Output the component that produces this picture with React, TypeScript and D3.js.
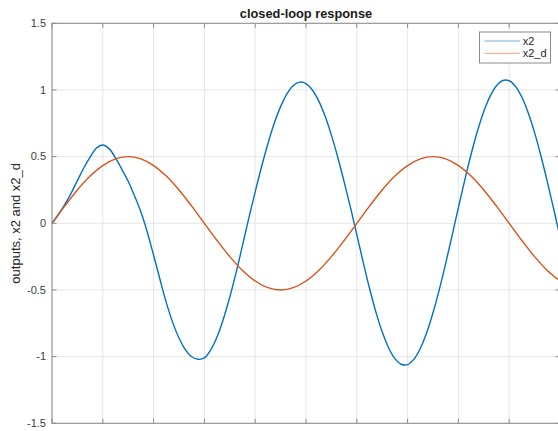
import React from "react";
import * as d3 from "d3";

const x2Time = [0, 0.125, 0.25, 0.375, 0.5, 0.625, 0.75, 0.875, 1, 1.125, 1.25, 1.375, 1.5, 1.625, 1.75, 1.875, 2, 2.125, 2.25, 2.375, 2.5, 2.625, 2.75, 2.875, 3, 3.125, 3.25, 3.375, 3.5, 3.625, 3.75, 3.875, 4, 4.125, 4.25, 4.375, 4.5, 4.625, 4.75, 4.875, 5, 5.125, 5.25, 5.375, 5.5, 5.625, 5.75, 5.875, 6, 6.125, 6.25, 6.375, 6.5, 6.625, 6.75, 6.875, 7, 7.125, 7.25, 7.375, 7.5, 7.625, 7.75, 7.875, 8, 8.125, 8.25, 8.375, 8.5, 8.625, 8.75, 8.875, 9, 9.125, 9.25, 9.375, 9.5, 9.625, 9.75, 9.875, 10];
const x2Values = [0, 0.066, 0.14, 0.225, 0.32, 0.415, 0.497, 0.565, 0.587, 0.56, 0.49, 0.405, 0.315, 0.205, 0.085, -0.065, -0.24, -0.42, -0.595, -0.743, -0.86, -0.947, -1.001, -1.02, -1.01, -0.95, -0.851, -0.716, -0.553, -0.368, -0.166, 0.04, 0.236, 0.424, 0.597, 0.75, 0.875, 0.971, 1.034, 1.059, 1.048, 1.0, 0.918, 0.804, 0.661, 0.495, 0.312, 0.119, -0.084, -0.291, -0.487, -0.664, -0.814, -0.933, -1.015, -1.057, -1.06, -1.019, -0.939, -0.821, -0.671, -0.495, -0.3, -0.093, 0.118, 0.324, 0.518, 0.692, 0.839, 0.954, 1.032, 1.071, 1.069, 1.026, 0.945, 0.828, 0.68, 0.505, 0.313, 0.109, -0.101];

const x2dTime = [0, 0.25, 0.5, 0.75, 1.0, 1.25, 1.5, 1.75, 2.0, 2.25, 2.5, 2.75, 3.0, 3.25, 3.5, 3.75, 4.0, 4.25, 4.5, 4.75, 5.0, 5.25, 5.5, 5.75, 6.0, 6.25, 6.5, 6.75, 7.0, 7.25, 7.5, 7.75, 8.0, 8.25, 8.5, 8.75, 9.0, 9.25, 9.5, 9.75, 10.0];
const x2dValues = [0, 0.129, 0.25, 0.354, 0.433, 0.483, 0.5, 0.483, 0.433, 0.354, 0.25, 0.129, 0, -0.129, -0.25, -0.354, -0.433, -0.483, -0.5, -0.483, -0.433, -0.354, -0.25, -0.129, 0, 0.129, 0.25, 0.354, 0.433, 0.483, 0.5, 0.483, 0.433, 0.354, 0.25, 0.129, 0, -0.129, -0.25, -0.354, -0.433];

const xTicks = [0, 1, 2, 3, 4, 5, 6, 7, 8, 9, 10];
const yTicks = [-1.5, -1, -0.5, 0, 0.5, 1, 1.5];
const yTickLabels = ["-1.5", "-1", "-0.5", "0", "0.5", "1", "1.5"];
const seriesNames = ["x2", "x2_d"];
const seriesColors = ["#0072BD", "#D95319"];
const titleText = "closed-loop response";
const yLabelText = "outputs, x2 and x2_d";

const W = 558;
const H = 431;
const left = 52;
const right = 560;
const top = 23.3;
const bottom = 423.3;

export default function App() {
  const x = d3.scaleLinear().domain([0, 10]).range([left, right]);
  const y = d3.scaleLinear().domain([-1.5, 1.5]).range([bottom, top]);
  const line = d3
    .line<[number, number]>()
    .x((d) => x(d[0]))
    .y((d) => y(d[1]))
    .curve(d3.curveCatmullRom.alpha(0.5));
  const s1 = x2Time.map((t, i) => [t, x2Values[i]] as [number, number]);
  const s2 = x2dTime.map((t, i) => [t, x2dValues[i]] as [number, number]);
  const font = "'Liberation Sans', Arial, Helvetica, sans-serif";
  const axisColor = "#8a8a8a";
  const gridColor = "#e6e6e6";
  const tickLen = 4.5;
  const legX = 479.5;
  const legY = 32;
  return (
    <svg
      width={W}
      height={H}
      style={{ position: "absolute", left: 0, top: 0, background: "#fff" }}
      fontFamily={font}
    >
      <rect x={0} y={0} width={W} height={H} fill="#ffffff" />
      {xTicks.map((t) => (
        <line key={"gx" + t} x1={x(t)} x2={x(t)} y1={top} y2={bottom} stroke={gridColor} strokeWidth={1} />
      ))}
      {yTicks.map((t) => (
        <line key={"gy" + t} x1={left} x2={right} y1={y(t)} y2={y(t)} stroke={gridColor} strokeWidth={1} />
      ))}
      <path d={line(s1) || ""} fill="none" stroke={seriesColors[0]} strokeWidth={1.4} />
      <path d={line(s2) || ""} fill="none" stroke={seriesColors[1]} strokeWidth={1.4} />
      <rect x={left} y={top} width={right - left} height={bottom - top} fill="none" stroke={axisColor} strokeWidth={1} />
      {xTicks.map((t) => (
        <g key={"tx" + t}>
          <line x1={x(t)} x2={x(t)} y1={bottom} y2={bottom - tickLen} stroke={axisColor} />
          <line x1={x(t)} x2={x(t)} y1={top} y2={top + tickLen} stroke={axisColor} />
        </g>
      ))}
      {yTicks.map((t) => (
        <g key={"ty" + t}>
          <line x1={left} x2={left + tickLen} y1={y(t)} y2={y(t)} stroke={axisColor} />
          <line x1={right} x2={right - tickLen} y1={y(t)} y2={y(t)} stroke={axisColor} />
        </g>
      ))}
      {yTicks.map((t, i) => (
        <text key={"yl" + t} x={46} y={y(t)} dy="0.35em" textAnchor="end" fontSize={11} fill="#404040">
          {yTickLabels[i]}
        </text>
      ))}
      <text x={(left + right) / 2} y={18} textAnchor="middle" fontSize={12.8} fontWeight="bold" fill="#1a1a1a">
        {titleText}
      </text>
      <text
        transform={`translate(19.5, ${(top + bottom) / 2}) rotate(-90)`}
        textAnchor="middle"
        fontSize={13}
        fill="#262626"
      >
        {yLabelText}
      </text>
      <rect x={legX} y={legY} width={71} height={31} fill="#ffffff" stroke="#8a8a8a" strokeWidth={1} />
      {seriesNames.map((name, i) => (
        <g key={name}>
          <line
            x1={484.5}
            x2={520}
            y1={41 + i * 12.3}
            y2={41 + i * 12.3}
            stroke={seriesColors[i]}
            strokeOpacity={0.55}
            strokeWidth={1}
          />
          <text x={522.7} y={45 + i * 12.3} fontSize={11} fill="#262626">
            {name}
          </text>
        </g>
      ))}
    </svg>
  );
}
